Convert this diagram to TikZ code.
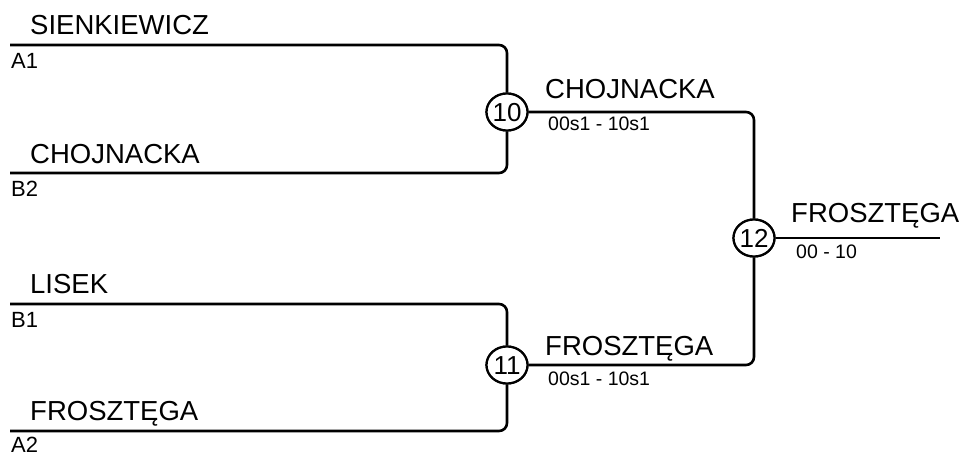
\documentclass[tikz,border=0pt]{standalone}
\usepackage{fontspec}
\setmainfont{Liberation Sans}
\usetikzlibrary{shapes.geometric}
\begin{document}
\begin{tikzpicture}[x=1pt,y=-1pt,
  wire/.style={line width=2.6pt,rounded corners=8pt},
  match/.style={ellipse,draw,line width=2.2pt,minimum width=41pt,minimum height=37pt,inner sep=0pt,text height=19pt,text depth=0pt,font=\fontsize{26}{26}\selectfont,fill=white},
  player/.style={anchor=base west,inner sep=0pt,font=\fontsize{27.5}{30}\selectfont},
  seed/.style={anchor=base west,inner sep=0pt,font=\fontsize{22}{24}\selectfont},
  score/.style={anchor=base west,inner sep=0pt,font=\fontsize{19.5}{22}\selectfont}]
\useasboundingbox (0,0) rectangle (965,455);
% start points
\coordinate (p1) at (10,45);
\coordinate (p2) at (10,173);
\coordinate (p3) at (10,304);
\coordinate (p4) at (10,431);
\coordinate (fin) at (940,238);
% matches
\node[match] (m10) at (507,112) {10};
\node[match] (m11) at (507,365) {11};
\node[match] (m12) at (754,238) {12};
% wires
\draw[wire] (p1) -| (m10);
\draw[wire] (p2) -| (m10);
\draw[wire] (p3) -| (m11);
\draw[wire] (p4) -| (m11);
\draw[wire] (m10) -| (m12);
\draw[wire] (m11) -| (m12);
\draw[wire] (m12) -- (fin);
% redraw match circles on top
\node[match] at (m10) {10};
\node[match] at (m11) {11};
\node[match] at (m12) {12};
% labels
\node[player] (t1) at (30,34) {SIENKIEWICZ};
\node[seed] (s1) at (11,68) {A1};
\node[player] (t2) at (30,163) {CHOJNACKA};
\node[seed] (s2) at (11,196) {B2};
\node[player] (t3) at (30,293) {LISEK};
\node[seed] (s3) at (11,327) {B1};
\node[player] (t4) at (30,420) {FROSZTĘGA};
\node[seed] (s4) at (11,452) {A2};
\node[player] (t10) at (545,98) {CHOJNACKA};
\node[score] (c10) at (548,130) {00s1 - 10s1};
\node[player] (t11) at (545,355) {FROSZTĘGA};
\node[score] (c11) at (548,385) {00s1 - 10s1};
\node[player] (t12) at (791,222) {FROSZTĘGA};
\node[score] (c12) at (796,258) {00 - 10};
\end{tikzpicture}
\end{document}
